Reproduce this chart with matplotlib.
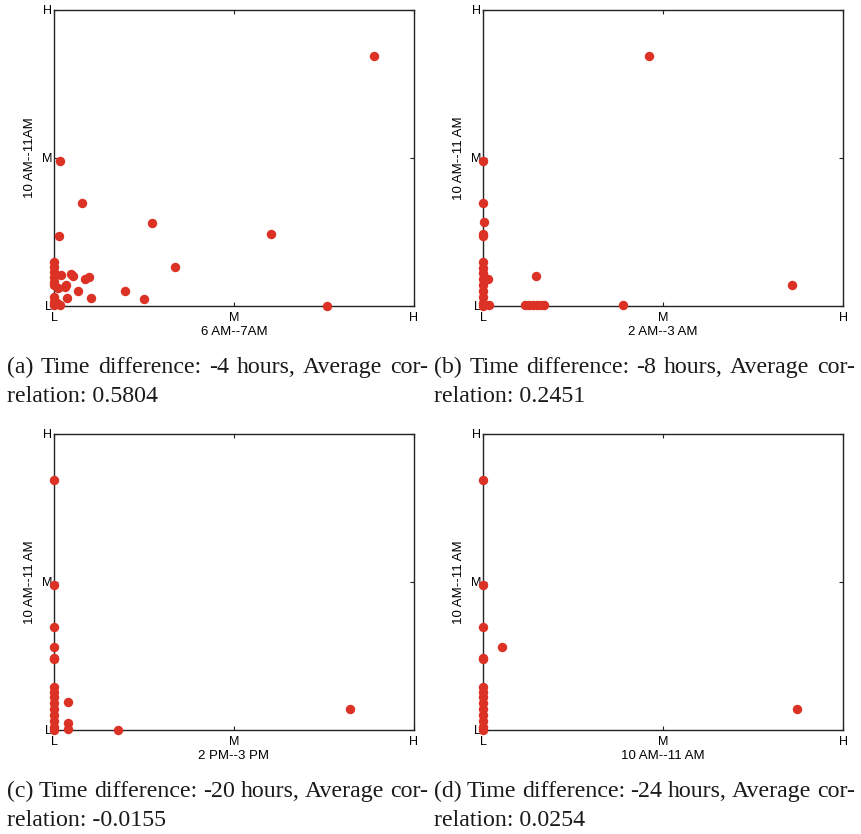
import matplotlib
matplotlib.use("Agg")
import matplotlib.pyplot as plt

# ---------------------------------------------------------------
# Normalised usage levels (0 = L, 0.5 = M, 1 = H) for each pair of hours
# ---------------------------------------------------------------
a_x = [0.888, 0.017, 0.077, 0.271, 0.604, 0.015, 0.335, 0.196, 0.251, 0.758,
       0.068, 0.103, 0.037, 0.046, 0.052, 0.086, 0.098, 0.019, 0.033, 0.031,
       0.012, 0.0, 0.0, 0.0, 0.0, 0.0, 0.0, 0.0, 0.0, 0.0, 0.017, 0.008]
a_y = [0.845, 0.491, 0.348, 0.282, 0.243, 0.238, 0.131, 0.051, 0.023, 0.0,
       0.052, 0.026, 0.026, 0.108, 0.101, 0.090, 0.099, 0.104, 0.070, 0.063,
       0.060, 0.150, 0.133, 0.116, 0.099, 0.082, 0.071, 0.031, 0.015, 0.003, 0.003, 0.010]

b_x = [0.462, 0.859, 0.388, 0.148, 0.0, 0.0, 0.004, 0.0, 0.0,
       0.0, 0.0, 0.0, 0.0, 0.0, 0.0, 0.0, 0.0, 0.0, 0.013, 0.016,
       0.118, 0.128, 0.140, 0.150, 0.160, 0.169]
b_y = [0.845, 0.071, 0.005, 0.102, 0.491, 0.348, 0.283, 0.243, 0.238,
       0.150, 0.130, 0.110, 0.090, 0.070, 0.050, 0.030, 0.010, 0.0, 0.091, 0.003,
       0.003, 0.003, 0.003, 0.003, 0.003, 0.003]

c_x = [0.0, 0.0, 0.0, 0.0, 0.0, 0.0,
       0.0, 0.0, 0.0, 0.0, 0.0, 0.0, 0.0, 0.0, 0.0,
       0.038, 0.821, 0.179, 0.038, 0.038]
c_y = [0.845, 0.491, 0.348, 0.282, 0.243, 0.239,
       0.146, 0.130, 0.110, 0.090, 0.070, 0.050, 0.030, 0.010, 0.0,
       0.096, 0.071, 0.0, 0.023, 0.002]

d_x = [0.0, 0.0, 0.0, 0.0, 0.0, 0.054, 0.873,
       0.0, 0.0, 0.0, 0.0, 0.0, 0.0, 0.0, 0.0, 0.0]
d_y = [0.845, 0.491, 0.348, 0.243, 0.239, 0.282, 0.071,
       0.146, 0.130, 0.110, 0.090, 0.070, 0.050, 0.030, 0.010, 0.0]

level_ticks = [0.0, 0.5, 1.0]
level_names = ["L", "M", "H"]

x_labels = ["6 AM--7AM", "2 AM--3 AM", "2 PM--3 PM", "10 AM--11 AM"]
y_labels = ["10 AM--11AM", "10 AM--11 AM", "10 AM--11 AM", "10 AM--11 AM"]
caption_first = [
    "(a) Time difference: -4 hours, Average cor-",
    "(b) Time difference: -8 hours, Average cor-",
    "(c) Time difference: -20 hours, Average cor-",
    "(d) Time difference: -24 hours, Average cor-",
]
caption_second = ["relation: 0.5804", "relation: 0.2451",
                  "relation: -0.0155", "relation: 0.0254"]

# ---------------------------------------------------------------
# Figure layout: 2 x 2 scatter panels with captions underneath
# ---------------------------------------------------------------
W, H = 862, 834
fig = plt.figure(figsize=(W / 100, H / 100), dpi=100)
renderer = fig.canvas.get_renderer()

boxes = [(54, 10), (483, 10), (54, 434), (483, 434)]   # left, top in pixels
box_w, box_h = 360, 296
caption_left = [7, 434, 7, 434]
caption_base = [373, 373, 797, 797]     # baseline of the first caption line
caption_width = 421                     # justified line width
line_gap = 29

series = [(a_x, a_y), (b_x, b_y), (c_x, c_y), (d_x, d_y)]
dot_color = "#dc3226"
cap_font = dict(family="Liberation Serif", fontsize=17.2, color="#1a1a1a",
                ha="left", va="baseline")


def justified_line(x0, y0, text, width):
    # lay the words out so the line fills the full column width
    words = text.split(" ")
    parts = [fig.text(0, 0, w, **cap_font) for w in words]
    widths = [p.get_window_extent(renderer).width for p in parts]
    gap = (width - sum(widths)) / (len(words) - 1)
    x = x0
    for p, w in zip(parts, widths):
        p.set_position((x / W, 1 - y0 / H))
        x += w + gap


for i in range(4):
    left, top = boxes[i]
    ax = fig.add_axes([left / W, 1 - (top + box_h) / H, box_w / W, box_h / H])
    xs, ys = series[i]
    ax.plot(xs, ys, "o", color=dot_color, markersize=6.8, markeredgewidth=0,
            clip_on=False, zorder=3)

    ax.set_xlim(0, 1)
    ax.set_ylim(0, 1)
    ax.set_xticks(level_ticks)
    ax.set_yticks(level_ticks)
    ax.set_xticklabels(level_names, family="Liberation Sans", fontsize=9)
    ax.set_yticklabels(level_names, family="Liberation Sans", fontsize=9)
    ax.tick_params(direction="in", length=3, width=0.8, top=True, right=True,
                   color="#222222")
    ax.tick_params(axis="x", pad=4)
    ax.tick_params(axis="y", pad=1.5)
    for sp in ax.spines.values():
        sp.set_linewidth(1.0)
        sp.set_color("#222222")

    ax.set_xlabel(x_labels[i], family="Liberation Sans", fontsize=9.5, labelpad=2)
    ax.set_ylabel(y_labels[i], family="Liberation Sans", fontsize=9.5, labelpad=4)

    justified_line(caption_left[i], caption_base[i], caption_first[i], caption_width)
    fig.text(caption_left[i] / W, 1 - (caption_base[i] + line_gap) / H,
             caption_second[i], **cap_font)

fig.savefig("out.png", dpi=100)
